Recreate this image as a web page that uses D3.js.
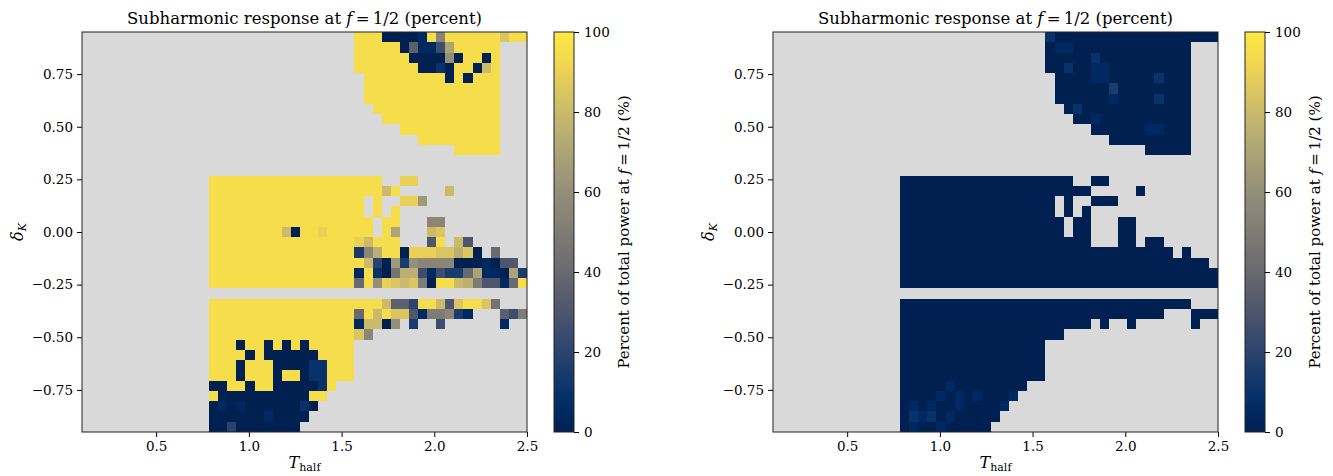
<!DOCTYPE html>
<html>
<head>
<meta charset="utf-8">
<script src="https://cdn.jsdelivr.net/npm/d3@7/dist/d3.min.js"></script>
<style>
  body { margin: 0; background: #fff; }
  svg text { font-family: "DejaVu Serif", serif; fill: #000; }
</style>
</head>
<body>
<svg id="fig" width="1333" height="476"></svg>
<script>
// grid: 49 columns over T_half in [0.1, 2.5], 39 rows over delta_K in [-0.95, 0.95]
const tRange = [0.1, 2.5]
const dRange = [-0.95, 0.95]
const nCols = 49
const nRows = 39
const xTicks = [0.5, 1.0, 1.5, 2.0, 2.5]
const yTicks = [0.75, 0.5, 0.25, 0, -0.25, -0.5, -0.75]
const cbarTicks = [0, 20, 40, 60, 80, 100]

// one letter per cell: a = 0 %, each next letter +5 %, u = 100 %; "." = no data
// rows listed from the top (delta_K = 0.95) down, columns 14..48 (0-13 are empty)
const codes = "abcdefghijklmnopqrstu"
const firstCol = 14

const leftRows = [
  "................tttaaaabtlttttttrtt",
  "................tttttahbbfottttt...",
  "................ttttttaaaamattat...",
  "................tttttttaacattaqt...",
  ".................tttttttttatattt...",
  ".................ttttttttttttttt...",
  ".................ttttttttttttttt...",
  "..................tttttttttttttt...",
  "...................ttttttttttttt...",
  ".....................ttttttttttt...",
  ".......................ttttttttt...",
  "...........................ttttt...",
  "...................................",
  "...................................",
  "ttttttttttttttttttt..ss............",
  "tttttttttttttttttttqt.....q........",
  "ttttttttttttttttt.t..ssn...........",
  "ttttttttttttttttt.t.t..............",
  "tttttttttttttttttt.tt...ll.........",
  "ttttttttqattsttttt.to...qr.........",
  "ttttttttttttttttsqttt...gt.qg......",
  "ttttttttttttttttdlpttasssrrpra.i...",
  "tttttttttttttttttqeandmllllaaabagg.",
  "ttttttttttttttttbtcajppfbfddiobbaod",
  "ttttttttttttttttitmsrqrkattqpkggbit",
  "...................................",
  "tttttttttttttttttttqhhettqgrttrj...",
  "ttttttttttttttttitqtrrgbkkldb...hfk",
  "ttttttttttttttttbqqam.d..f......b..",
  "ttttttttttttttttrl.................",
  "tttattatatattttt...................",
  "ttttataaaaaatttt...................",
  "tttatttaaaaccttt...................",
  "tttatttattaccttt...................",
  "aattattaaaaact.....................",
  "taaaaaaaaaatt......................",
  "ababaaaaaaca.......................",
  "aaaaaabaaaa........................",
  "aaeaaaaaaa........................."
]

const rightRows = [
  "................caaaaaaaaaaaaaaaaaa",
  "................abbaaaaaaaaaaaaa...",
  "................aaaaacaaaaaaaaaa...",
  "................aacaabbaaaaaaaaa...",
  ".................aaaabbaaaaacaaa...",
  ".................aaaaaadaaaaaaaa...",
  ".................aaaaaabaaaacaaa...",
  "..................acaaaaaaaaaaaa...",
  "...................aabaaaaaaaaaa...",
  ".....................aaaaaabbaaa...",
  ".......................aaaaaaaaa...",
  "...........................aaaaa...",
  "...................................",
  "...................................",
  "aaaaaaaaaaaaaaaaaaa..aa............",
  "aaaaaaaaaaaaaaaaaaaaa.....a........",
  "aaaaaaaaaaaaaaaaa.a..aaa...........",
  "aaaaaaaaaaaaaaaaa.a.a..............",
  "aaaaaaaaaaaaaaaaaa.aa...aa.........",
  "aaaaaaaaaaaaaaaaaa.aa...aa.........",
  "aaaaaaaaaaaaaaaaaaaaa...aa.aa......",
  "aaaaaaaaaaaaaaaaaaaaaaaaaaaaaa.a...",
  "aaaaaaaaaaaaaaaaaaaaaaaaaaaaaaaaaa.",
  "aaaaaaaaaaaaaaaaaaaaaaaaaaaaaaaaaaa",
  "aaaaaaaaaaaaaaaaaaaaaaaaaaaaaaaaaaa",
  "...................................",
  "aaaaaaaaaaaaaaaaaaaaaaaaaaaaaaaa...",
  "aaaaaaaaaaaaaaaaaaaaaaaaaaaaa...aaa",
  "aaaaaaaaaaaaaaaaaaaaa.a..a......a..",
  "aaaaaaaaaaaaaaaaaa.................",
  "aaaaaaaaaaaaaaaa...................",
  "aaaaaaaaaaaaaaaa...................",
  "aaaaaaaaaaaaaaaa...................",
  "aaaaaaaaaaaaaaaa...................",
  "aaaaabaaaaaaaa.....................",
  "aaaabababaaab......................",
  "ababaabaaaab.......................",
  "acbcabaaaaa........................",
  "abaabaaaaa........................."
]

const panels = [
  {rows: leftRows, x0: 82, x1: 527, cb: 554},
  {rows: rightRows, x0: 773, x1: 1218, cb: 1245}
]
const yTop = 32, yBot = 432, cbW = 20
const nanColor = "#d9d9d9"
const color = d3.scaleSequential(d3.interpolateCividis).domain([0, 100])
const fmtY = d3.format(".2f")
const fmtX = d3.format(".1f")

const svg = d3.select("#fig")
const dT = (tRange[1] - tRange[0]) / nCols
const dD = (dRange[1] - dRange[0]) / nRows

panels.forEach((p, pi) => {
  const x = d3.scaleLinear().domain(tRange).range([p.x0, p.x1])
  const y = d3.scaleLinear().domain(dRange).range([yBot, yTop])
  const g = svg.append("g")

  g.append("rect")
    .attr("x", p.x0).attr("y", yTop)
    .attr("width", p.x1 - p.x0).attr("height", yBot - yTop)
    .attr("fill", nanColor)

  const cells = []
  p.rows.forEach((row, r) => {
    for (let i = 0; i < row.length; i++) {
      const k = codes.indexOf(row[i])
      if (k >= 0) cells.push({r, c: firstCol + i, v: k * 5})
    }
  })

  g.append("g").attr("shape-rendering", "crispEdges")
    .selectAll("rect")
    .data(cells)
    .join("rect")
    .attr("x", d => x(tRange[0] + d.c * dT))
    .attr("width", d => x(tRange[0] + (d.c + 1) * dT) - x(tRange[0] + d.c * dT))
    .attr("y", d => y(dRange[1] - d.r * dD))
    .attr("height", d => y(dRange[1] - (d.r + 1) * dD) - y(dRange[1] - d.r * dD))
    .attr("fill", d => color(d.v))

  // axes
  const xa = g.append("g")
    .attr("transform", `translate(0,${yBot})`)
    .call(d3.axisBottom(x).tickValues(xTicks).tickFormat(fmtX).tickSize(5).tickPadding(4))
  const ya = g.append("g")
    .attr("transform", `translate(${p.x0},0)`)
    .call(d3.axisLeft(y).tickValues(yTicks).tickFormat(fmtY).tickSize(5).tickPadding(4))
  ;[xa, ya].forEach(a => {
    a.select(".domain").remove()
    a.selectAll("line").attr("stroke", "#000").attr("stroke-width", 1)
    a.selectAll("text").attr("font-family", "DejaVu Serif").attr("font-size", 13.5)
  })

  g.append("rect")
    .attr("x", p.x0).attr("y", yTop)
    .attr("width", p.x1 - p.x0).attr("height", yBot - yTop)
    .attr("fill", "none").attr("stroke", "#222").attr("stroke-width", 1)

  // title
  const cx = (p.x0 + p.x1) / 2
  const title = g.append("text").attr("x", cx).attr("y", 24)
    .attr("text-anchor", "middle").attr("font-size", 16.5)
  title.append("tspan").text("Subharmonic response at ")
  title.append("tspan").attr("font-style", "italic").text("f")
  title.append("tspan").text("\u2009=\u20091/2 (percent)")

  // x label
  const xl = g.append("text").attr("x", cx).attr("y", 468)
    .attr("text-anchor", "middle").attr("font-size", 16)
  xl.append("tspan").attr("font-style", "italic").text("T")
  xl.append("tspan").attr("font-size", 11).attr("dy", 3).text("half")

  // y label
  const yl = g.append("text")
    .attr("transform", `translate(${p.x0 - 59},${(yTop + yBot) / 2}) rotate(-90)`)
    .attr("text-anchor", "middle").attr("font-size", 16)
  yl.append("tspan").attr("font-style", "italic").text("\u03b4")
  yl.append("tspan").attr("font-style", "italic").attr("font-size", 11).attr("dy", 3).text("K")

  // colorbar
  const gid = "cbgrad" + pi
  const grad = svg.append("defs").append("linearGradient")
    .attr("id", gid).attr("x1", 0).attr("y1", 1).attr("x2", 0).attr("y2", 0)
  d3.range(0, 1.0001, 0.05).forEach(t => {
    grad.append("stop").attr("offset", t).attr("stop-color", d3.interpolateCividis(t))
  })
  const cs = d3.scaleLinear().domain([0, 100]).range([yBot, yTop])
  g.append("rect")
    .attr("x", p.cb).attr("y", yTop).attr("width", cbW).attr("height", yBot - yTop)
    .attr("fill", `url(#${gid})`).attr("stroke", "#222").attr("stroke-width", 1)
  const ca = g.append("g")
    .attr("transform", `translate(${p.cb + cbW},0)`)
    .call(d3.axisRight(cs).tickValues(cbarTicks).tickFormat(d3.format("d")).tickSize(5).tickPadding(5))
  ca.select(".domain").remove()
  ca.selectAll("line").attr("stroke", "#000")
  ca.selectAll("text").attr("font-family", "DejaVu Serif").attr("font-size", 13.5)

  const cl = g.append("text")
    .attr("transform", `translate(${p.cb + cbW + 55},${(yTop + yBot) / 2}) rotate(-90)`)
    .attr("text-anchor", "middle").attr("font-size", 15)
  cl.append("tspan").text("Percent of total power at ")
  cl.append("tspan").attr("font-style", "italic").text("f")
  cl.append("tspan").text("\u2009=\u20091/2 (%)")
})
</script>
</body>
</html>
